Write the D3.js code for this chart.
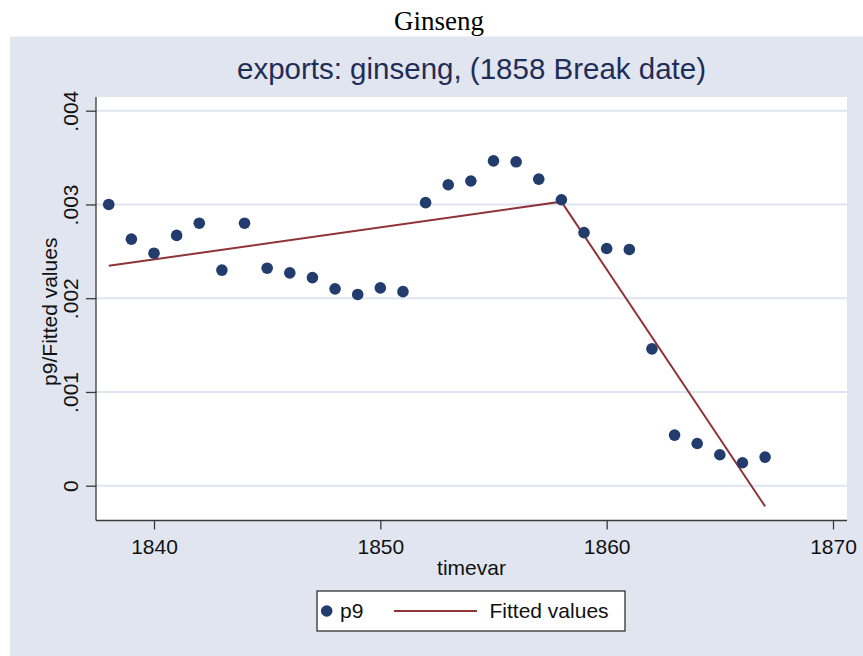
<!DOCTYPE html>
<html>
<head>
<meta charset="utf-8">
<script src="https://cdn.jsdelivr.net/npm/d3@7"></script>
<style>
  html, body { margin: 0; padding: 0; background: #ffffff; }
  svg { display: block; }
  text { font-family: Arial, "Liberation Sans", sans-serif; }
</style>
</head>
<body>
<svg id="chart" width="863" height="656"></svg>
<script>
// ---- data ----
const years = [1838,1839,1840,1841,1842,1843,1844,1845,1846,1847,1848,1849,1850,1851,1852,1853,1854,1855,1856,1857,1858,1859,1860,1861,1862,1863,1864,1865,1866,1867];
const p9 = [0.00300,0.00263,0.00248,0.00267,0.00280,0.00230,0.00280,0.00232,0.00227,0.00222,0.00210,0.00204,0.00211,0.00207,0.00302,0.00321,0.00325,0.003465,0.003455,0.00327,0.00305,0.00270,0.00253,0.00252,0.00146,0.00054,0.00045,0.00033,0.000245,0.000305];
const fitYears = [1838, 1858, 1867];
const fitValues = [0.002345, 0.00303, -0.00022];
const xTicks = [1840, 1850, 1860, 1870];
const yTicks = [0, 0.001, 0.002, 0.003, 0.004];
const yTickLabels = ["0", ".001", ".002", ".003", ".004"];
const figTitle = "Ginseng";
const chartTitle = "exports: ginseng, (1858 Break date)";
const xTitle = "timevar";
const yTitle = "p9/Fitted values";
const legendLabels = ["p9", "Fitted values"];

// ---- layout ----
const W = 863, H = 656;
const panel = {x: 10, y: 36.5};
const plot = {left: 96, right: 847, top: 97, bottom: 520.5};
const navy = "#223d6d", maroon = "#8e3438", bg = "#e0e5f0", grid = "#dfe4f1";

const svg = d3.select("#chart");

const x = d3.scaleLinear().domain([1840, 1870]).range([154, 833]);
const y = d3.scaleLinear().domain([0, 0.004]).range([485.7, 110.7]);

// figure title
svg.append("text").attr("x", 439).attr("y", 30)
  .attr("text-anchor", "middle")
  .style("font-family", "'Liberation Serif', 'Times New Roman', serif")
  .style("font-size", "27px").attr("fill", "#000")
  .text(figTitle);

// outer panel
svg.append("rect").attr("x", panel.x).attr("y", panel.y)
  .attr("width", W - panel.x).attr("height", H - panel.y).attr("fill", bg);

// chart title
svg.append("text").attr("x", (plot.left + plot.right) / 2).attr("y", 79)
  .attr("text-anchor", "middle").attr("fill", "#1f2d57")
  .style("font-size", "29.5px")
  .text(chartTitle);

// plot region
svg.append("rect").attr("x", plot.left).attr("y", plot.top)
  .attr("width", plot.right - plot.left).attr("height", plot.bottom - plot.top)
  .attr("fill", "#ffffff");

// gridlines
svg.append("g").selectAll("line").data(yTicks).join("line")
  .attr("x1", plot.left).attr("x2", plot.right)
  .attr("y1", d => y(d)).attr("y2", d => y(d))
  .attr("stroke", grid).attr("stroke-width", 2);

// y axis
const yAxis = d3.axisLeft(y).tickValues(yTicks)
  .tickFormat((d, i) => yTickLabels[i]).tickSize(10).tickPadding(8);
const gy = svg.append("g").attr("transform", `translate(${plot.left},0)`).call(yAxis);
gy.select(".domain").remove();
gy.append("line").attr("x1", 0).attr("x2", 0).attr("y1", plot.top).attr("y2", plot.bottom)
  .attr("stroke", "#3a3a3a").attr("stroke-width", 1.3);
gy.selectAll(".tick line").attr("stroke", "#3a3a3a").attr("stroke-width", 1.3);
gy.selectAll(".tick text")
  .attr("x", null).attr("dy", null)
  .attr("transform", "translate(-18,0) rotate(-90)")
  .attr("text-anchor", "middle")
  .attr("fill", "#111").style("font-size", "21px").style("font-family", "Arial, 'Liberation Sans', sans-serif");

// x axis
const xAxis = d3.axisBottom(x).tickValues(xTicks).tickFormat(d3.format("d")).tickSize(9).tickPadding(4);
const gx = svg.append("g").attr("transform", `translate(0,${plot.bottom})`).call(xAxis);
gx.select(".domain").remove();
gx.append("line").attr("x1", plot.left).attr("x2", plot.right).attr("y1", 0).attr("y2", 0)
  .attr("stroke", "#3a3a3a").attr("stroke-width", 1.3);
gx.selectAll(".tick line").attr("stroke", "#3a3a3a").attr("stroke-width", 1.3);
gx.selectAll(".tick text").attr("dy", null).attr("y", 33.5)
  .attr("fill", "#111").style("font-size", "21px").style("font-family", "Arial, 'Liberation Sans', sans-serif");

// axis titles
svg.append("text").attr("x", (plot.left + plot.right) / 2).attr("y", 575)
  .attr("text-anchor", "middle").attr("fill", "#111").style("font-size", "21px")
  .text(xTitle);
svg.append("text").attr("transform", `translate(57,${(plot.top + plot.bottom) / 2 + 3}) rotate(-90)`)
  .attr("text-anchor", "middle").attr("fill", "#111").style("font-size", "21px")
  .text(yTitle);

// fitted line
const line = d3.line().x(d => x(d[0])).y(d => y(d[1]));
svg.append("path").datum(fitYears.map((yr, i) => [yr, fitValues[i]]))
  .attr("d", line).attr("fill", "none").attr("stroke", maroon)
  .attr("stroke-width", 2).attr("stroke-linejoin", "miter");

// points
svg.append("g").selectAll("circle").data(years.map((yr, i) => [yr, p9[i]])).join("circle")
  .attr("cx", d => x(d[0])).attr("cy", d => y(d[1])).attr("r", 5.8)
  .attr("fill", navy);

// legend
const lg = svg.append("g");
lg.append("rect").attr("x", 317).attr("y", 591).attr("width", 308).attr("height", 40)
  .attr("fill", "#ffffff").attr("stroke", "#222").attr("stroke-width", 1.2);
lg.append("circle").attr("cx", 326.7).attr("cy", 611).attr("r", 5.8).attr("fill", navy);
lg.append("text").attr("x", 340).attr("y", 618).attr("fill", "#111").style("font-size", "21px").text(legendLabels[0]);
lg.append("line").attr("x1", 394).attr("x2", 477).attr("y1", 611).attr("y2", 611)
  .attr("stroke", maroon).attr("stroke-width", 2);
lg.append("text").attr("x", 489.5).attr("y", 618).attr("fill", "#111").style("font-size", "21px").text(legendLabels[1]);
</script>
</body>
</html>
